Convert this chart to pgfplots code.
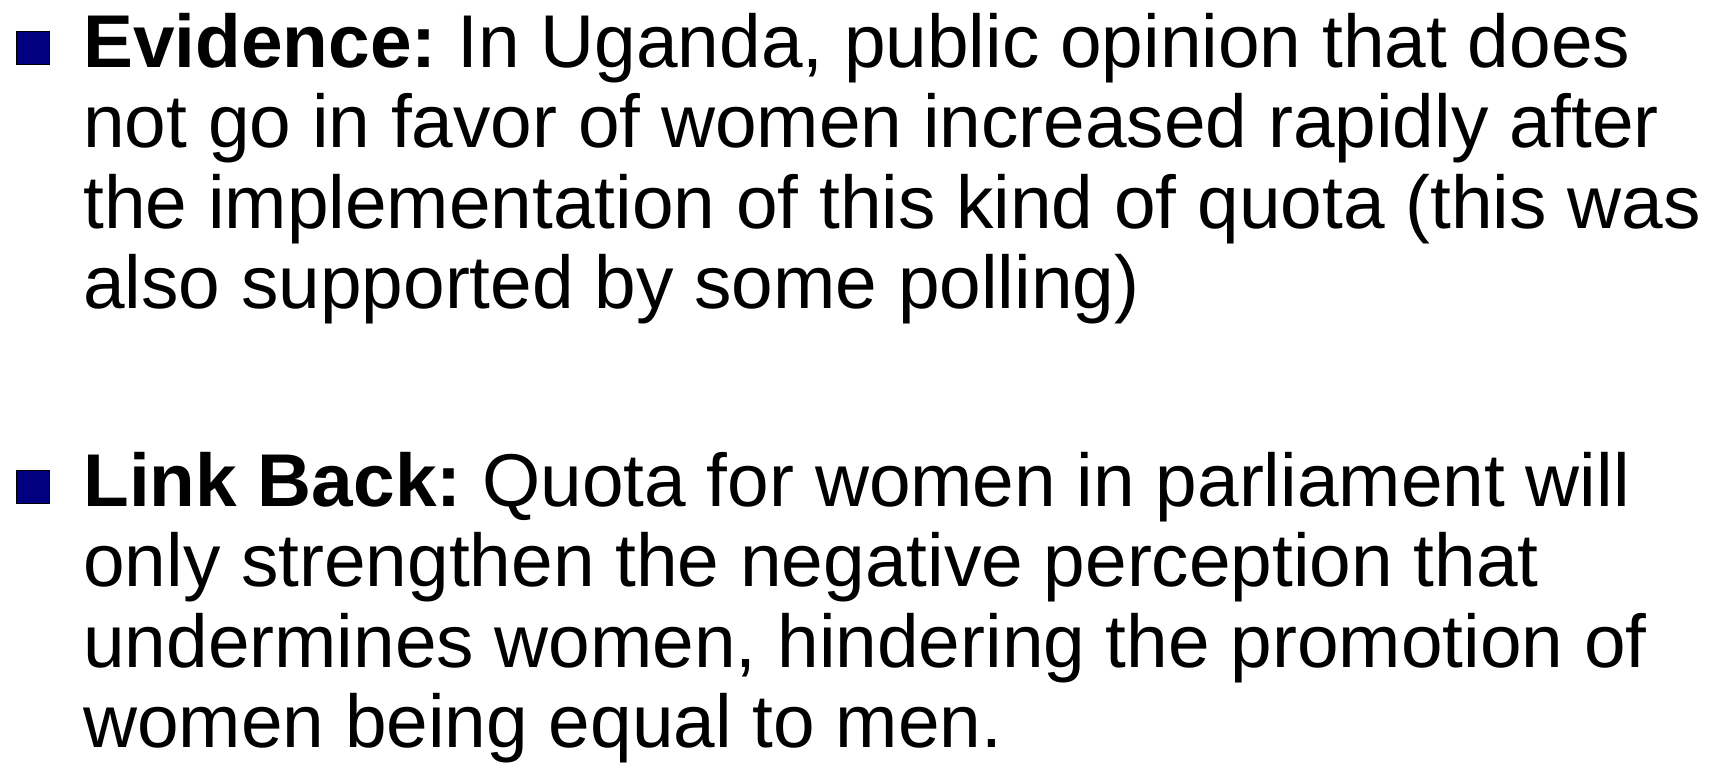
\documentclass[border=0pt]{standalone}
\usepackage{pgfplots}
\pgfplotsset{compat=1.18}
\usepackage{fontspec}
\setmainfont{Liberation Sans}
\frenchspacing
\definecolor{bulletnavy}{HTML}{000080}
\begin{document}
\begin{tikzpicture}
\begin{axis}[
  width=857.5pt, height=381pt, scale only axis,
  xmin=0, xmax=1715, ymin=0, ymax=762, y dir=reverse,
  hide axis, clip=false,
]
\path[use as bounding box] (axis cs:0,0) rectangle (axis cs:1715,762);
\addplot[only marks, mark=square*, mark size=8.25pt, mark options={fill=bulletnavy, draw=none}]
  coordinates {(32.5,47.5) (32.5,486.5)};
\begin{scope}[every node/.style={anchor=base west, inner sep=0pt, font=\fontsize{37.4pt}{40pt}\selectfont}]
\node at (axis cs:83,67) {\textbf{Evidence:} In Uganda, public opinion that does};
\node at (axis cs:83,147) {not go in favor of women increased rapidly after};
\node at (axis cs:83,228) {the implementation of this kind of quota (this was};
\node at (axis cs:83,308) {also supported by some polling)};
\node at (axis cs:83,506) {\textbf{Link Back:} Quota for women in parliament will};
\node at (axis cs:83,586) {only strengthen the negative perception that};
\node at (axis cs:83,667) {undermines women, hindering the promotion of};
\node at (axis cs:83,747) {women being equal to men.};
\end{scope}
\end{axis}
\end{tikzpicture}
\end{document}
